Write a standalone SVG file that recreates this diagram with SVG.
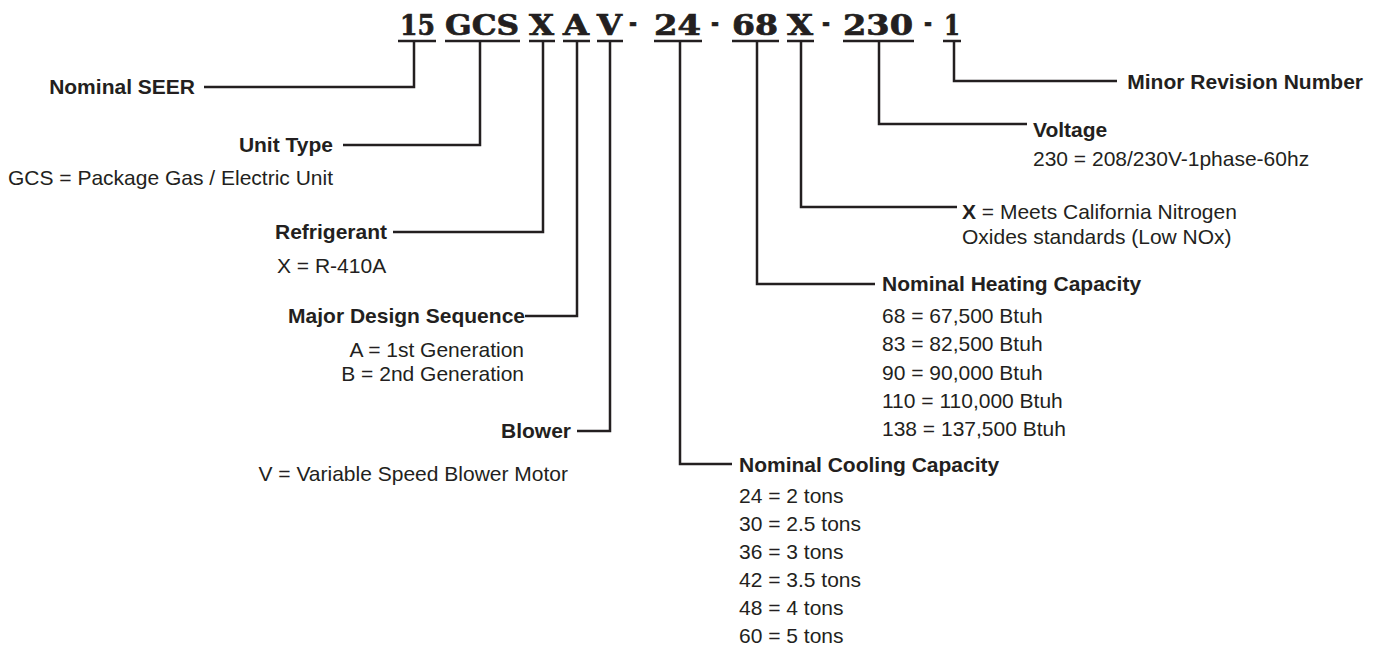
<svg xmlns="http://www.w3.org/2000/svg" width="1380" height="656" viewBox="0 0 1380 656">
<style>
.t{font-family:"Liberation Sans",Arial,sans-serif;font-size:21px;fill:#231f20}
.b{font-weight:bold}
.code{font-family:"DejaVu Serif","Liberation Serif",serif;font-weight:bold;font-size:28px;fill:#231f20;stroke:#231f20;stroke-width:0.7}
.ul{stroke:#231f20;stroke-width:2.5;fill:none}
.c{stroke:#231f20;stroke-width:2.5;fill:none;stroke-linejoin:miter}
</style>
<rect width="1380" height="656" fill="#ffffff"/>
<g id="code">
<text class="code" x="400" y="35" textLength="35" lengthAdjust="spacingAndGlyphs">15</text>
<text class="code" x="445" y="35" textLength="74" lengthAdjust="spacingAndGlyphs">GCS</text>
<text class="code" x="529" y="35" textLength="25" lengthAdjust="spacingAndGlyphs">X</text>
<text class="code" x="563" y="35" textLength="26" lengthAdjust="spacingAndGlyphs">A</text>
<text class="code" x="597" y="35" textLength="25" lengthAdjust="spacingAndGlyphs">V</text>
<text class="code" x="629" y="32" textLength="8" lengthAdjust="spacingAndGlyphs">-</text>
<text class="code" x="654" y="35" textLength="47" lengthAdjust="spacingAndGlyphs">24</text>
<text class="code" x="711" y="32" textLength="8" lengthAdjust="spacingAndGlyphs">-</text>
<text class="code" x="732" y="35" textLength="46" lengthAdjust="spacingAndGlyphs">68</text>
<text class="code" x="787" y="35" textLength="26" lengthAdjust="spacingAndGlyphs">X</text>
<text class="code" x="822" y="32" textLength="8" lengthAdjust="spacingAndGlyphs">-</text>
<text class="code" x="843" y="35" textLength="70" lengthAdjust="spacingAndGlyphs">230</text>
<text class="code" x="924" y="32" textLength="8" lengthAdjust="spacingAndGlyphs">-</text>
<text class="code" x="944" y="35" textLength="16" lengthAdjust="spacingAndGlyphs">1</text>
<path class="ul" d="M398 41H436M445 41H520M529 41H555M563 41H590M597 41H623M654 41H702M732 41H779M787 41H814M843 41H914M943 41H961"/>
</g>
<g id="connectors">
<polyline class="c" points="204,87 414,87 414,41"/>
<polyline class="c" points="343,145 480,145 480,41"/>
<polyline class="c" points="393,232 543,232 543,41"/>
<polyline class="c" points="525,316 577,316 577,41"/>
<polyline class="c" points="577,431 610,431 610,41"/>
<polyline class="c" points="732,464 680,464 680,41"/>
<polyline class="c" points="875,284 757,284 757,41"/>
<polyline class="c" points="957,207 801,207 801,41"/>
<polyline class="c" points="1027,124 879,124 879,41"/>
<polyline class="c" points="1117,81 954,81 954,41"/>
</g>
<g id="seer"><text class="t b" x="195" y="94" text-anchor="end">Nominal SEER</text></g>
<g id="unit-type">
<text class="t b" x="333" y="152" text-anchor="end">Unit Type</text>
<text class="t" x="333" y="185" text-anchor="end">GCS = Package Gas / Electric Unit</text>
</g>
<g id="refrigerant">
<text class="t b" x="387" y="239" text-anchor="end">Refrigerant</text>
<text class="t" x="277" y="273">X = R-410A</text>
</g>
<g id="design">
<text class="t b" x="525" y="323" text-anchor="end">Major Design Sequence</text>
<text class="t" x="524" y="357" text-anchor="end">A = 1st Generation</text>
<text class="t" x="524" y="381" text-anchor="end">B = 2nd Generation</text>
</g>
<g id="blower">
<text class="t b" x="571" y="438" text-anchor="end">Blower</text>
<text class="t" x="568" y="481" text-anchor="end">V = Variable Speed Blower Motor</text>
</g>
<g id="cooling">
<text class="t b" x="739" y="472">Nominal Cooling Capacity</text>
<text class="t" x="739" y="503">24 = 2 tons</text>
<text class="t" x="739" y="531">30 = 2.5 tons</text>
<text class="t" x="739" y="559">36 = 3 tons</text>
<text class="t" x="739" y="587">42 = 3.5 tons</text>
<text class="t" x="739" y="615">48 = 4 tons</text>
<text class="t" x="739" y="643">60 = 5 tons</text>
</g>
<g id="heating">
<text class="t b" x="882" y="291">Nominal Heating Capacity</text>
<text class="t" x="882" y="323">68 = 67,500 Btuh</text>
<text class="t" x="882" y="351">83 = 82,500 Btuh</text>
<text class="t" x="882" y="380">90 = 90,000 Btuh</text>
<text class="t" x="882" y="408">110 = 110,000 Btuh</text>
<text class="t" x="882" y="436">138 = 137,500 Btuh</text>
</g>
<g id="nox">
<text class="t" x="962" y="219"><tspan class="b">X</tspan> = Meets California Nitrogen</text>
<text class="t" x="962" y="244">Oxides standards (Low NOx)</text>
</g>
<g id="voltage">
<text class="t b" x="1033" y="137">Voltage</text>
<text class="t" x="1033" y="166">230 = 208/230V-1phase-60hz</text>
</g>
<g id="revision"><text class="t b" x="1363" y="89" text-anchor="end">Minor Revision Number</text></g>
</svg>
